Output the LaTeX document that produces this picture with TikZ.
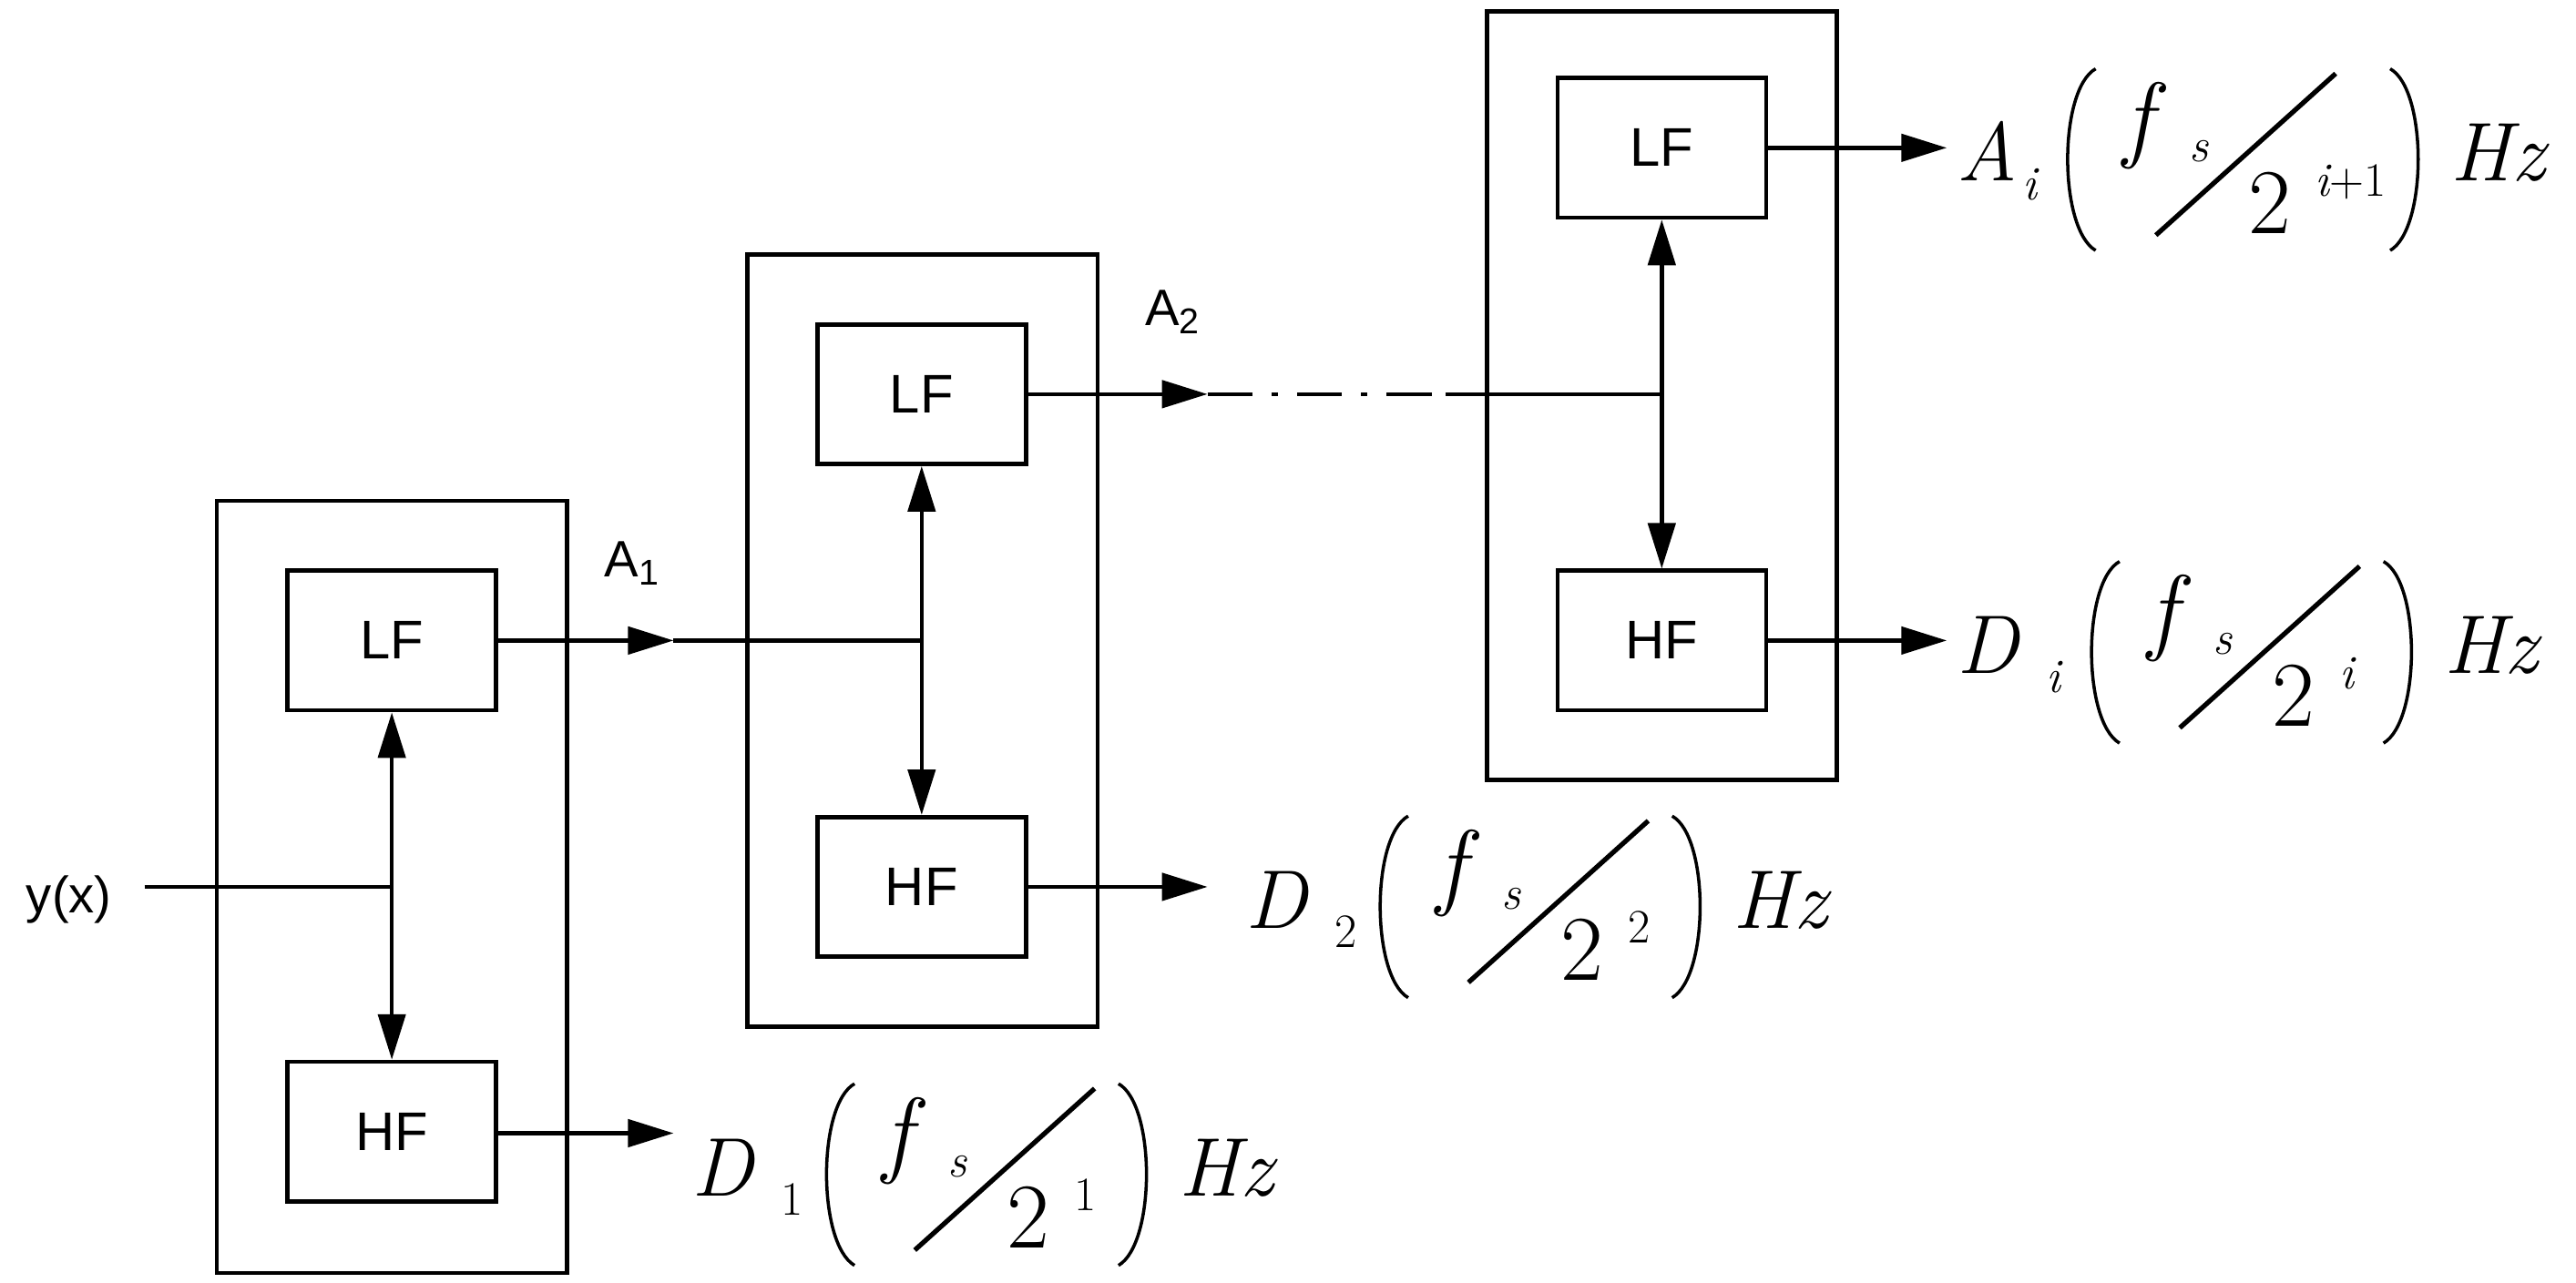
\documentclass[tikz,border=0pt]{standalone}
\usepackage{fontspec}
\setsansfont{Liberation Sans}
\usetikzlibrary{arrows.meta}
% #1 name, #2 x, #3 y, #4 letter, #5 subscript, #6 superscript, #7 close paren offset, #8 shift of the bracket group
\newcommand\myformula[8]{%
\pgfmathsetmacro\cpa{#7+0.39}%
\pgfmathsetmacro\cpb{#7+0.62}%
\begin{scope}[shift={(#2,#3)}]
\begin{scope}[x=1.05cm,y=1.05cm,line width=1pt]
\node[big,anchor=base west] (#1L) at (0,0) {#4};
\node[small,anchor=base west] (#1s) at (0.94+#8,-0.2) {#5};
\begin{scope}[xshift=#8*1.05cm]
\draw (1.72,1.17) .. controls (1.33,0.95) and (1.33,-0.5) .. (1.72,-0.73);
\node[big,anchor=base west] (#1f) at (2.0,0.32) {\fontsize{30}{32}\selectfont f};
\node[small,anchor=base west] (#1fs) at (2.68,0.2) {s};
\draw[line width=1.5pt] (2.35,-0.57) -- (4.23,1.12);
\node[two,anchor=base west] (#1two) at (3.3,-0.55) {2};
\node[small,anchor=base west] (#1sup) at (4.0,-0.16) {#6};
\draw (#7,1.17) .. controls (\cpa,0.95) and (\cpa,-0.5) .. (#7,-0.73);
\node[big,anchor=base west] (#1hz) at (\cpb,0) {Hz};
\end{scope}
\end{scope}\end{scope}}
\begin{document}
\begin{tikzpicture}[x=0.01804cm,y=-0.01804cm,
  line width=1.3pt,
  tip/.style={-{Triangle[length=0.5cm,width=0.3cm]}},
  dtip/.style={{Triangle[length=0.5cm,width=0.3cm]}-{Triangle[length=0.5cm,width=0.3cm]}},
  blk/.style={draw,minimum width=127*0.01804cm,minimum height=85*0.01804cm,font=\sffamily\fontsize{17}{20}\selectfont},
  lbl/.style={font=\sffamily\fontsize{16}{19}\selectfont},
  big/.style={inner sep=0pt,font=\rmfamily\itshape\fontsize{26}{30}\selectfont},
  two/.style={inner sep=0pt,font=\rmfamily\fontsize{29}{32}\selectfont},
  small/.style={inner sep=0pt,font=\rmfamily\itshape\fontsize{15}{18}\selectfont}]
\useasboundingbox (0,0) rectangle (1568,781);
% boxes
\draw (132,305) rectangle (345,775);
\draw (455,155) rectangle (668,625);
\draw (905,7) rectangle (1118,475);
\node[blk] (lf1) at (238.5,390) {LF};
\node[blk] (hf1) at (238.5,689) {HF};
\node[blk] (lf2) at (561,240) {LF};
\node[blk] (hf2) at (561,540) {HF};
\node[blk] (lf3) at (1011.5,90) {LF};
\node[blk] (hf3) at (1011.5,390) {HF};
% stage 1
\node[lbl] (y) at (42,548) {y(x)};
\coordinate (in) at (88,540);
\coordinate (m1) at (238,540);
\draw (in) -- (m1);
\draw[dtip] (lf1) -- (hf1);
\coordinate (a1) at (410,390);
\coordinate (v2) at (562,390);
\draw[tip] (lf1.east) -- (a1);
\draw (a1) -- (v2);
\node[lbl] (A1) at (385,343) {A\textsubscript{1}};
\coordinate (d1) at (410,690);
\draw[tip] (hf1.east |- d1) -- (d1);
\myformula{Da}{420}{728}{D}{\upshape 1}{\upshape 1}{4.48}{0}
% stage 2
\draw[dtip] (lf2) -- (hf2);
\coordinate (a2) at (735,240);
\coordinate (a2b) at (880,240);
\coordinate (v3) at (1012,240);
\draw[tip] (lf2.east) -- (a2);
\draw[dash pattern=on 14pt off 6pt on 2pt off 6pt] (a2) -- (a2b);
\draw (a2b) -- (v3);
\node[lbl] (A2) at (714,190) {A\textsubscript{2}};
\coordinate (d2) at (735,540);
\draw[tip] (hf2.east) -- (d2);
\myformula{Db}{757}{565}{D}{\upshape 2}{\upshape 2}{4.48}{0}
% stage 3
\draw[dtip] (lf3) -- (hf3);
\coordinate (ai) at (1185,90);
\draw[tip] (lf3.east) -- (ai);
\myformula{Ai}{1190}{110}{A}{i}{i\upshape +1}{4.8}{-0.25}
\coordinate (di) at (1185,390);
\draw[tip] (hf3.east) -- (di);
\myformula{Di}{1190}{410}{D}{i}{i}{4.48}{0}
\end{tikzpicture}
\end{document}
